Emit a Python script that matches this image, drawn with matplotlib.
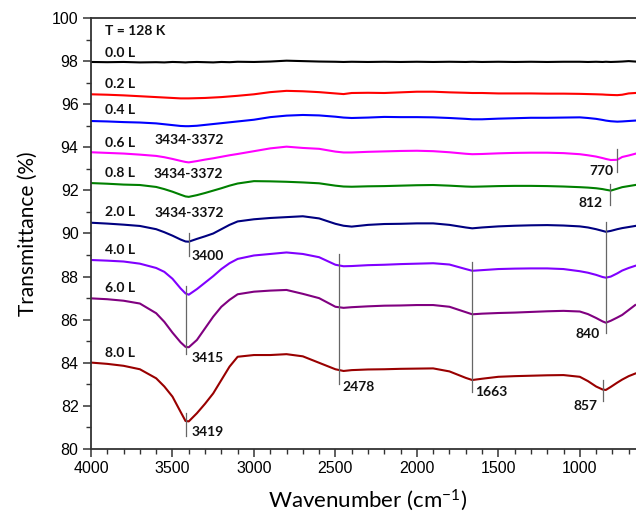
import matplotlib
matplotlib.use("Agg")
import matplotlib.pyplot as plt
from matplotlib.ticker import MultipleLocator

plt.rcParams["mathtext.fontset"] = "custom"
plt.rcParams["mathtext.rm"] = "Lato"
plt.rcParams["mathtext.it"] = "Lato:italic"

# Shared wavenumber grid (cm^-1)
wavenumber = [4000, 3900, 3800, 3700, 3600, 3550, 3500, 3450, 3420, 3400, 3350, 3300,
              3250, 3200, 3150, 3100, 3000, 2900, 2800, 2700, 2600, 2500, 2450, 2400,
              2300, 2200, 2100, 2000, 1900, 1800, 1700, 1660, 1600, 1500, 1400, 1300,
              1200, 1100, 1000, 950, 900, 860, 840, 810, 770, 740, 700, 660]

exposures = ["0.0 L", "0.2 L", "0.4 L", "0.6 L", "0.8 L", "2.0 L", "4.0 L", "6.0 L", "8.0 L"]

t_00 = [97.96, 97.95, 97.96, 97.94, 97.95, 97.94, 97.96, 97.95, 97.94, 97.95, 97.96, 97.95,
        97.94, 97.96, 97.95, 97.97, 97.96, 97.98, 98.02, 98.00, 97.98, 97.97, 97.96, 97.97,
        97.96, 97.97, 97.96, 97.97, 97.96, 97.97, 97.96, 97.97, 97.96, 97.97, 97.96, 97.97,
        97.96, 97.97, 97.97, 97.96, 97.97, 97.96, 97.97, 97.96, 97.97, 97.98, 98.00, 97.98]
t_02 = [96.46, 96.44, 96.41, 96.37, 96.33, 96.31, 96.29, 96.27, 96.27, 96.27, 96.28, 96.29,
        96.31, 96.33, 96.36, 96.39, 96.46, 96.56, 96.62, 96.60, 96.56, 96.50, 96.47, 96.52,
        96.53, 96.52, 96.55, 96.58, 96.58, 96.55, 96.53, 96.52, 96.52, 96.50, 96.50, 96.50,
        96.49, 96.49, 96.48, 96.47, 96.46, 96.45, 96.44, 96.43, 96.42, 96.44, 96.50, 96.52]
t_04 = [95.22, 95.20, 95.17, 95.15, 95.11, 95.07, 95.03, 94.99, 94.98, 94.98, 95.00, 95.04,
        95.08, 95.12, 95.16, 95.20, 95.28, 95.40, 95.47, 95.50, 95.48, 95.42, 95.38, 95.36,
        95.38, 95.41, 95.40, 95.40, 95.39, 95.36, 95.32, 95.30, 95.30, 95.33, 95.35, 95.37,
        95.37, 95.38, 95.39, 95.36, 95.32, 95.27, 95.24, 95.21, 95.19, 95.20, 95.22, 95.24]
t_06 = [93.77, 93.74, 93.71, 93.66, 93.60, 93.54, 93.46, 93.37, 93.32, 93.30, 93.36, 93.43,
        93.49, 93.56, 93.63, 93.69, 93.82, 93.95, 94.03, 93.97, 93.93, 93.80, 93.76, 93.76,
        93.79, 93.81, 93.83, 93.84, 93.82, 93.77, 93.70, 93.68, 93.69, 93.72, 93.74, 93.75,
        93.75, 93.73, 93.68, 93.63, 93.57, 93.50, 93.46, 93.41, 93.42, 93.55, 93.62, 93.70]
t_08 = [92.34, 92.31, 92.27, 92.25, 92.16, 92.06, 91.94, 91.80, 91.72, 91.70, 91.78, 91.88,
        91.99, 92.10, 92.22, 92.32, 92.43, 92.42, 92.40, 92.37, 92.33, 92.22, 92.18, 92.17,
        92.19, 92.20, 92.22, 92.24, 92.25, 92.22, 92.18, 92.17, 92.18, 92.20, 92.21, 92.21,
        92.20, 92.18, 92.15, 92.13, 92.10, 92.06, 92.03, 91.99, 92.08, 92.15, 92.20, 92.25]
t_20 = [90.50, 90.46, 90.41, 90.35, 90.20, 90.06, 89.90, 89.72, 89.63, 89.62, 89.75, 89.87,
        90.00, 90.20, 90.40, 90.56, 90.66, 90.72, 90.76, 90.80, 90.70, 90.45, 90.36, 90.32,
        90.40, 90.44, 90.45, 90.47, 90.47, 90.40, 90.28, 90.24, 90.28, 90.33, 90.36, 90.38,
        90.39, 90.37, 90.33, 90.28, 90.20, 90.12, 90.08, 90.12, 90.20, 90.25, 90.30, 90.35]
t_40 = [88.77, 88.74, 88.70, 88.60, 88.40, 88.22, 87.90, 87.45, 87.22, 87.16, 87.42, 87.72,
        88.02, 88.35, 88.62, 88.82, 88.98, 89.05, 89.12, 89.05, 88.90, 88.55, 88.48, 88.49,
        88.53, 88.55, 88.58, 88.60, 88.62, 88.56, 88.35, 88.27, 88.30, 88.35, 88.37, 88.38,
        88.38, 88.35, 88.25, 88.18, 88.08, 87.98, 87.95, 88.00, 88.15, 88.28, 88.40, 88.50]
t_60 = [86.99, 86.95, 86.88, 86.75, 86.30, 85.90, 85.40, 84.95, 84.74, 84.72, 85.06, 85.60,
        86.14, 86.60, 86.92, 87.18, 87.30, 87.35, 87.38, 87.20, 87.00, 86.60, 86.55, 86.58,
        86.62, 86.65, 86.66, 86.68, 86.68, 86.60, 86.35, 86.25, 86.28, 86.31, 86.33, 86.36,
        86.39, 86.41, 86.38, 86.26, 86.08, 85.92, 85.86, 85.95, 86.10, 86.22, 86.45, 86.68]
t_80 = [84.01, 83.95, 83.86, 83.70, 83.28, 82.90, 82.43, 81.72, 81.30, 81.28, 81.66, 82.10,
        82.58, 83.20, 83.82, 84.28, 84.36, 84.36, 84.40, 84.30, 84.00, 83.70, 83.62, 83.66,
        83.69, 83.70, 83.72, 83.73, 83.74, 83.60, 83.30, 83.20, 83.26, 83.35, 83.38, 83.40,
        83.42, 83.43, 83.35, 83.15, 82.90, 82.76, 82.74, 82.88, 83.08, 83.22, 83.38, 83.50]

spectra = [t_00, t_02, t_04, t_06, t_08, t_20, t_40, t_60, t_80]
colors = ["#000000", "#ff0000", "#0000ff", "#ff00ff", "#008000",
          "#000080", "#8000ff", "#800080", "#990000"]
label_y = [98.37, 96.94, 95.73, 94.2, 92.8, 91.0, 89.23, 87.47, 84.45]

# Band markers: (wavenumber, y_top, y_bottom)
band_lines = [(770, 93.9, 92.85), (812, 92.3, 91.32), (3400, 90.02, 88.95),
              (840, 90.55, 85.38), (3415, 87.56, 84.41), (2478, 89.05, 83.02),
              (1663, 88.68, 82.65), (3419, 81.67, 80.6), (857, 83.2, 82.23)]
# Band labels: (text, wavenumber, y, horizontal alignment)
band_labels = [("3434-3372", 3396, 94.34, "center"), ("3434-3372", 3400, 92.76, "center"),
               ("3434-3372", 3396, 90.95, "center"), ("3400", 3385, 88.95, "left"),
               ("3415", 3385, 84.22, "left"), ("3419", 3385, 80.79, "left"),
               ("2478", 2455, 82.88, "left"), ("1663", 1640, 82.65, "left"),
               ("770", 870, 92.9, "center"), ("812", 935, 91.42, "center"),
               ("840", 950, 85.33, "center"), ("857", 962, 82.0, "center")]

fig = plt.figure(figsize=(6.36, 5.19), dpi=100)
ax = fig.add_axes([0.1431, 0.1349, 0.871, 0.8304])

for y, c in zip(spectra, colors):
    ax.plot(wavenumber, y, color=c, lw=1.5)

for x, y0, y1 in band_lines:
    ax.plot([x, x], [y0, y1], color="#666666", lw=0.9)

bold = dict(family="Lato", fontweight="bold", fontsize=10, color="#111111")
ax.text(3914, 99.4, "T = 128 K", ha="left", va="center", **bold)
for name, yy in zip(exposures, label_y):
    ax.text(3914, yy, name, ha="left", va="center", **bold)
for text, x, y, ha in band_labels:
    ax.text(x, y, text, ha=ha, va="center", **bold)

ax.set_xlim(4000, 600)
ax.set_ylim(80, 100)
ax.xaxis.set_major_locator(MultipleLocator(500))
ax.xaxis.set_minor_locator(MultipleLocator(100))
ax.yaxis.set_major_locator(MultipleLocator(2))
ax.yaxis.set_minor_locator(MultipleLocator(1))
ax.tick_params(which="major", direction="out", length=6, width=1.1, color="#333333",
               labelsize=11.5, pad=3)
ax.tick_params(which="minor", direction="out", length=3.5, width=1.0, color="#333333")
for lbl in ax.get_xticklabels() + ax.get_yticklabels():
    lbl.set_fontfamily("Liberation Sans")
for side in ("left", "bottom", "top"):
    ax.spines[side].set_color("#333333")
    ax.spines[side].set_linewidth(1.3)
ax.spines["right"].set_visible(False)

ax.set_xlabel("Wavenumber (cm$^{-1}$)", family="Lato", fontsize=16, labelpad=8)
ax.set_ylabel("Transmittance (%)", family="Lato", fontsize=15, labelpad=10)

fig.savefig("out.png", dpi=100)
